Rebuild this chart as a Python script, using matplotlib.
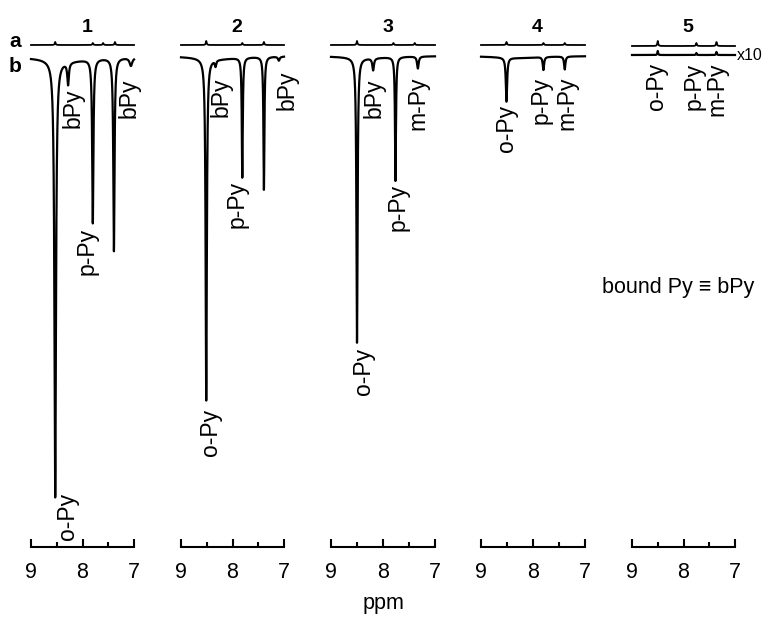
import numpy as np
import matplotlib
matplotlib.use('Agg')
import matplotlib.pyplot as plt
from matplotlib.ticker import FixedLocator

plt.rcParams['font.family'] = ['Liberation Sans', 'DejaVu Sans']

# ---------------- data ----------------
panel_titles = ['1', '2', '3', '4', '5']
ppm_major = [9, 8, 7]
ppm_minor = [8.5, 7.5]

# trace b peaks (negative-going): position (ppm), depth (display units), half width (ppm)
b_ppm = [
    [8.53, 8.28, 7.80, 7.39, 7.06],
    [8.51, 8.33, 7.81, 7.39, 7.10],
    [8.50, 8.19, 7.76, 7.33],
    [8.51, 7.80, 7.39],
    [8.50, 7.75, 7.36],
]
b_depth = [
    [437, 22, 164, 193, 8],
    [342, 6, 120, 133, 4],
    [285, 12, 124, 12],
    [44, 13, 13],
    [-4, -2, -3],
]
b_width = [
    [0.018, 0.018, 0.014, 0.014, 0.03],
    [0.014, 0.015, 0.011, 0.011, 0.02],
    [0.013, 0.018, 0.011, 0.018],
    [0.015, 0.015, 0.015],
    [0.008, 0.008, 0.008],
]
# broad background of trace b (depth, centre ppm, half width ppm)
b_bg = [(4, 8.3, 0.5), (3, 8.3, 0.5), (2, 8.3, 0.5), (2, 8.3, 0.5), (0, 8.3, 0.5)]
b_labels = [
    ['o-Py', 'bPy', 'p-Py', None, 'bPy'],
    ['o-Py', 'bPy', 'p-Py', None, 'bPy'],
    ['o-Py', 'bPy', 'p-Py', 'm-Py'],
    ['o-Py', 'p-Py', 'm-Py'],
    ['o-Py', 'p-Py', 'm-Py'],
]
# trace a small (upward) peaks
a_ppm = [
    [8.53, 7.80, 7.60, 7.37],
    [8.51, 7.81, 7.39],
    [8.50, 7.80, 7.39],
    [8.51, 7.80, 7.39],
    [8.50, 7.75, 7.36],
]
a_height = [
    [3, 2, 2, 3],
    [4, 2, 3],
    [4, 2, 2],
    [3, 2, 2],
    [5, 3, 4],
]

# ---------------- layout (pixels) ----------------
W, H = 766, 618
fig = plt.figure(figsize=(W / 100, H / 100), dpi=100)
x9 = [31, 181, 331, 481, 632]
x7 = [134, 284, 435, 585, 735]
top_px, bot_px = 25, 547
b_base_px = [57, 56, 56, 56, 55]
a_base_px = [45, 45, 45, 45, 46]
# label offsets: (dx px, gap below tip px)
lab_off = [
    [(12, -5), (5, 3), (-6, 4), None, (-2, 12)],
    [(4, 8), (6, 10), (-5, 3), None, (8, 10)],
    [(6, 5), (1, 8), (3, 3), (0, 8)],
    [(0, 3), (-2, 7), (2, 7)],
    [(-1, 8), (-2, 8), (0, 8)],
]

x = np.linspace(9, 7, 3000)


def lor(xx, c, a, w):
    return a * w ** 2 / ((xx - c) ** 2 + w ** 2)


for i in range(5):
    left = x9[i] / W
    width = (x7[i] - x9[i]) / W
    ax = fig.add_axes([left, (H - bot_px) / H, width, (bot_px - top_px) / H])
    ax.set_xlim(9, 7)
    ax.set_ylim(-bot_px, -top_px)
    for s in ['top', 'right', 'left']:
        ax.spines[s].set_visible(False)
    ax.spines['bottom'].set_linewidth(1.5)
    ax.set_yticks([])
    ax.xaxis.set_major_locator(FixedLocator(ppm_major))
    ax.xaxis.set_minor_locator(FixedLocator(ppm_minor))
    ax.set_xticklabels([str(v) for v in ppm_major])
    ax.tick_params(axis='x', which='major', direction='in', length=6, width=1.5,
                   labelsize=15.5, pad=11)
    ax.tick_params(axis='x', which='minor', direction='in', length=3.5, width=1.5)

    # trace b
    yb = np.zeros_like(x)
    d, c, w = b_bg[i]
    yb += lor(x, c, d, w)
    for c, d, w in zip(b_ppm[i], b_depth[i], b_width[i]):
        yb += lor(x, c, d, w)
    ax.plot(x, -b_base_px[i] - yb, color='black', lw=1.6, clip_on=False)

    # trace a
    ya = np.zeros_like(x)
    for c, h in zip(a_ppm[i], a_height[i]):
        ya += lor(x, c, h, 0.01)
    ax.plot(x, -a_base_px[i] + ya, color='black', lw=1.3, clip_on=False)

    # labels
    px_per_ppm = (x7[i] - x9[i]) / 2.0
    for j, lab in enumerate(b_labels[i]):
        if lab is None:
            continue
        c = b_ppm[i][j]
        m = np.abs(x - c) < 0.03
        tip = (-b_base_px[i] - yb)[m].min() if b_depth[i][j] > 0 else -b_base_px[i]
        dx, gap = lab_off[i][j]
        ax.text(c - dx / px_per_ppm, tip - gap, lab, rotation=90, ha='center', va='top',
                fontsize=16.5)

    ax.text(7.91, -32, panel_titles[i], ha='center', va='baseline', fontsize=14,
            fontweight='bold')

fig.text(15 / W, 1 - 47 / H, 'a', ha='center', va='baseline', fontsize=15, fontweight='bold')
fig.text(15 / W, 1 - 72 / H, 'b', ha='center', va='baseline', fontsize=15, fontweight='bold')
fig.text(737 / W, 1 - 55 / H, 'x10', ha='left', va='center', fontsize=11.5)
fig.text(602 / W, 1 - 287 / H, 'bound Py \u2261 bPy', ha='left', va='center', fontsize=15.5)
fig.text(383 / W, 1 - 603 / H, 'ppm', ha='center', va='center', fontsize=15.5)

fig.savefig('out.png', dpi=100)
